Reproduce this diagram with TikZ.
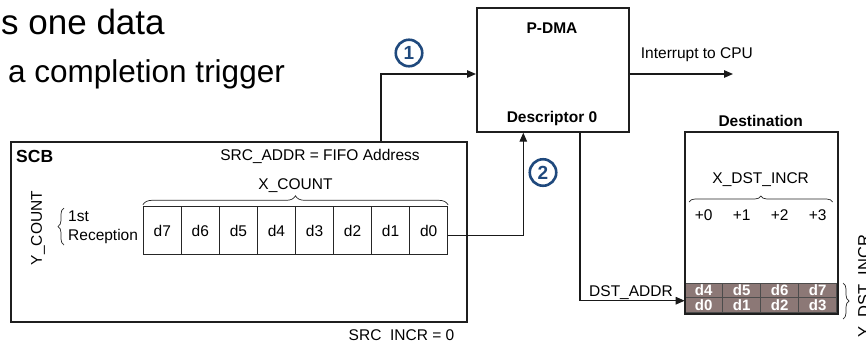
\documentclass[tikz,border=0pt]{standalone}
\usepackage{fontspec}
\setmainfont{Liberation Sans}
\usetikzlibrary{arrows.meta,decorations.pathreplacing,calc}
\newcommand\fsz[1]{\fontsize{#1}{#1}\selectfont}
\definecolor{numblue}{RGB}{31,73,125}
\definecolor{cellgray}{RGB}{140,120,118}
\begin{document}
\begin{tikzpicture}[x=1pt,y=-1pt,
  box/.style={draw=black!88,line width=1.7pt,inner sep=0pt},
  cell/.style={draw=black!85,line width=0.8pt,minimum width=38pt,minimum height=47.6pt,inner sep=0pt,font=\fsz{15.5}},
  gcell/.style={draw=black!70,fill=cellgray,line width=0.9pt,minimum width=38pt,minimum height=14.5pt,inner sep=0pt,text=white,font=\fsz{15}\bfseries},
  conn/.style={draw=black!90,line width=1.2pt},
  arr/.style={conn,-{Triangle[length=9pt,width=7.5pt]}},
  lbl/.style={inner sep=0pt,font=\fsz{15.5}},
  blbl/.style={inner sep=0pt,font=\fsz{15.5}\bfseries},
  numc/.style={circle,draw=numblue,line width=2.6pt,text=numblue,minimum size=26.5pt,inner sep=0pt,font=\fsz{19}\bfseries},
  brc/.style={draw=black!85,line width=0.7pt,decorate,decoration={brace,amplitude=#1}}
]
\useasboundingbox (0,0) rectangle (866,341);

% slide text
\node[inner sep=0pt,anchor=base west,font=\fsz{35}] (line1) at (1,34) {s one data};
\node[inner sep=0pt,anchor=base west,font=\fsz{31.5}] (line2) at (8,82) {a completion trigger};

% P-DMA block
\node[box,minimum width=152pt,minimum height=124pt,anchor=north west] (pdma) at (476,7) {};
\node[blbl,anchor=base] (pdmat) at (552,33) {P-DMA};
\node[blbl,anchor=base] (desc) at (552,122) {Descriptor 0};

% SCB block with FIFO cells
\node[box,minimum width=456pt,minimum height=180pt,anchor=north west] (scb) at (10,141) {};
\node[inner sep=0pt,anchor=base west,font=\fsz{17.5}\bfseries] (scbt) at (16,162.7) {SCB};
\node[lbl,anchor=base] (srcaddr) at (320,160) {SRC\_ADDR = FIFO Address};
\node[lbl,anchor=base] (xcount) at (295.5,189) {X\_COUNT};
\foreach \d [count=\i from 0] in {7,6,5,4,3,2,1,0}
  \node[cell] (c\d) at (162.3+38.05*\i,230.5) {d\d};
\draw[brc=9pt] (c7.north west) ++(0,-1.5) -- ($(c0.north east)+(0,-1.5)$);
\node[lbl,rotate=90] (ycount) at (38,228) {Y\_COUNT};
\draw[brc=6pt] (64,245) -- (64,208);
\node[lbl,anchor=base west] (first) at (68,221.7) {1st};
\node[lbl,anchor=base west] (recep) at (68,240.7) {Reception};
\node[lbl,anchor=base] (srcincr) at (401.5,340) {SRC\_INCR = 0};

% Destination memory
\node[box,minimum width=152pt,minimum height=180.6pt,anchor=north west] (dest) at (684.7,131.7) {};
\node[blbl,anchor=base] (destt) at (760.7,126.7) {Destination};
\node[lbl,anchor=base] (xdst) at (760.7,183) {X\_DST\_INCR};
\draw[brc=6pt] (689,202) -- (832.7,202);
\foreach \o [count=\i from 0] in {0,1,2,3}
  \node[lbl,anchor=base] (off\o) at (703.7+38*\i,220.7) {+\o};
\foreach \d [count=\i from 0] in {4,5,6,7}
  \node[gcell] (t\d) at (703.7+38*\i,290.5) {d\d};
\foreach \d [count=\i from 0] in {0,1,2,3}
  \node[gcell] (b\d) at (703.7+38*\i,305) {d\d};
\draw[box] (dest.north west) rectangle (dest.south east);
\node[lbl,anchor=base] (dstaddr) at (631,296.7) {DST\_ADDR};
\draw[brc=6pt] (843,283) -- (843,319);
\node[inner sep=0pt,rotate=90,anchor=north,font=\fsz{16.5}] (ydst) at (858,286) {Y\_DST\_INCR};

% connectors
\coordinate (j1) at (381,74);
\draw[arr] (j1 |- scb.north) -- (j1) -- (j1 -| pdma.west);
\node[numc] (n1) at (409,53) {1};

\coordinate (j2) at (523.3,235.5);
\draw[arr] (c0.east |- j2) -- (j2) -- (j2 |- pdma.south);
\node[numc] (n2) at (543,172.5) {2};

\coordinate (irq) at (733,74);
\draw[arr] (pdma.east |- irq) -- (irq);
\node[lbl,anchor=base west] (irqt) at (640.7,58.3) {Interrupt to CPU};

\coordinate (j3) at (580,300.7);
\draw[arr] (j3 |- pdma.south) -- (j3) -- (j3 -| dest.west);
\end{tikzpicture}
\end{document}
